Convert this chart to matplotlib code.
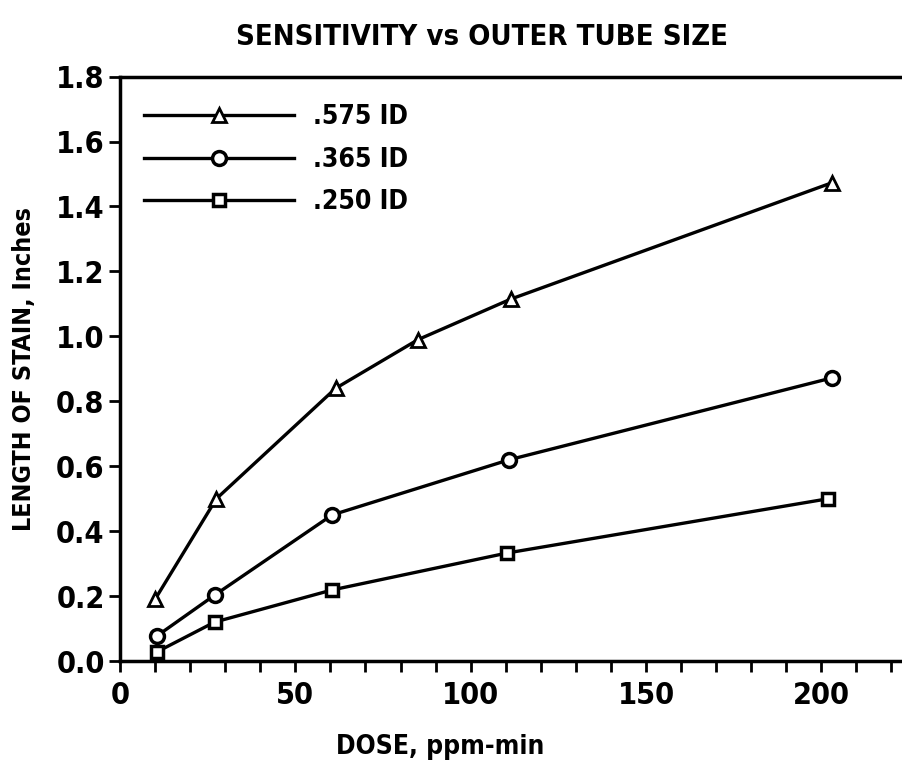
import matplotlib
matplotlib.use("Agg")
import matplotlib.pyplot as plt
from matplotlib.ticker import MultipleLocator

# values
dose_575 = [10, 27.5, 61.5, 85, 111.5, 203]
stain_575 = [0.19, 0.50, 0.84, 0.99, 1.115, 1.473]

dose_365 = [10.5, 27, 60.5, 111, 203]
stain_365 = [0.077, 0.203, 0.45, 0.62, 0.872]

dose_250 = [10.5, 27, 60.5, 110.5, 202]
stain_250 = [0.028, 0.12, 0.219, 0.333, 0.50]

labels = [".575 ID", ".365 ID", ".250 ID"]

plt.rcParams["font.family"] = ["DejaVu Sans"]
plt.rcParams["font.stretch"] = "condensed"
plt.rcParams["font.weight"] = "bold"

fig = plt.figure(figsize=(9.02, 7.66), dpi=100)
ax = fig.add_axes([0.133, 0.137, 0.867, 0.763])

lw = 2.4
ax.plot(dose_575, stain_575, color="black", lw=lw, marker="^", ms=10,
        mfc="white", mec="black", mew=2, label=labels[0])
ax.plot(dose_365, stain_365, color="black", lw=lw, marker="o", ms=10,
        mfc="white", mec="black", mew=2.5, label=labels[1])
ax.plot(dose_250, stain_250, color="black", lw=lw, marker="s", ms=9,
        mfc="white", mec="black", mew=2.5, label=labels[2])

ax.set_xlim(0, 223)
ax.set_ylim(0, 1.8)
ax.xaxis.set_major_locator(MultipleLocator(50))
ax.xaxis.set_minor_locator(MultipleLocator(10))
ax.yaxis.set_major_locator(MultipleLocator(0.2))
ax.yaxis.set_major_formatter(plt.FuncFormatter(lambda v, p: "%.1f" % v))

ax.spines["right"].set_visible(False)
for s in ["left", "bottom", "top"]:
    ax.spines[s].set_linewidth(2.5)
ax.tick_params(which="both", direction="out", width=2, length=8, labelsize=22)
ax.tick_params(axis="x", pad=6)
ax.tick_params(axis="y", pad=3)

ax.set_xlabel("DOSE, ppm-min", fontsize=19, fontweight="bold", va="center")
ax.xaxis.set_label_coords(0.409, -0.147)
ax.set_ylabel("LENGTH OF STAIN, Inches", fontsize=18, fontweight="bold",
              labelpad=14)
fig.text(0.534, 0.952, "SENSITIVITY vs OUTER TUBE SIZE", ha="center",
         va="center", fontsize=21, fontweight="bold")

leg = ax.legend(loc="upper left", bbox_to_anchor=(0.0, 0.993), frameon=False,
                fontsize=19, handlelength=5.7, labelspacing=0.62,
                handletextpad=0.7)

fig.savefig("out.png", dpi=100)
